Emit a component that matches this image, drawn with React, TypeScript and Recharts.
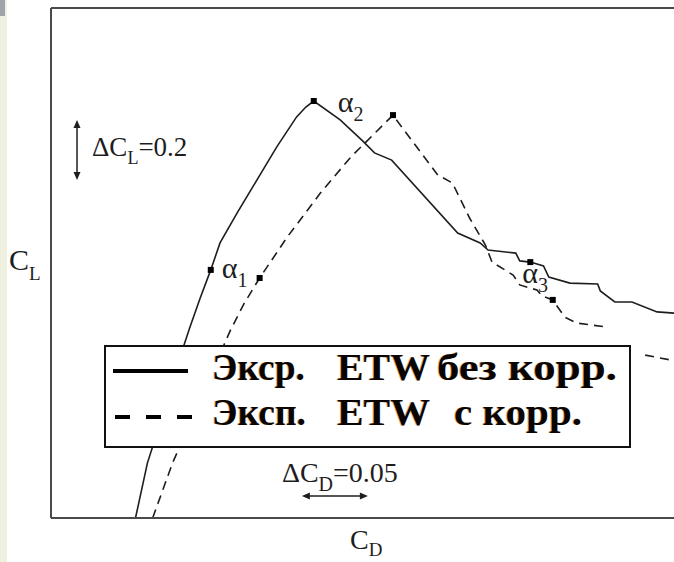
import React from 'react';
import { LineChart, Line, XAxis, YAxis, ReferenceLine, Legend, Label } from 'recharts';

// C_D / C_L (no tick values in the original, scale from the ΔC arrows)
const solidCd = [0.064, 0.073, 0.081, 0.089, 0.097, 0.105, 0.113, 0.121, 0.128, 0.141, 0.156, 0.171, 0.186, 0.193, 0.199, 0.219, 0.236, 0.245, 0.258, 0.308, 0.325, 0.331, 0.352, 0.355, 0.363, 0.373, 0.377, 0.393, 0.414, 0.416, 0.427, 0.440, 0.459, 0.472, 0.490];
const solidCl = [-0.200, -0.017, 0.093, 0.200, 0.327, 0.433, 0.533, 0.627, 0.717, 0.817, 0.927, 1.037, 1.137, 1.170, 1.190, 1.127, 1.057, 1.017, 0.993, 0.750, 0.717, 0.693, 0.683, 0.657, 0.653, 0.640, 0.603, 0.583, 0.580, 0.557, 0.520, 0.520, 0.487, 0.483, 0.480];
const solidMarks = [7, 14, 24];

const dashCd = [0.077, 0.092, 0.103, 0.114, 0.126, 0.136, 0.146, 0.158, 0.179, 0.204, 0.227, 0.243, 0.259, 0.264, 0.293, 0.304, 0.317, 0.329, 0.334, 0.350, 0.355, 0.368, 0.372, 0.380, 0.389, 0.398, 0.420, 0.432, 0.450, 0.469, 0.490];
const dashCl = [-0.200, -0.017, 0.093, 0.200, 0.327, 0.427, 0.513, 0.600, 0.737, 0.883, 1.003, 1.073, 1.143, 1.113, 0.943, 0.917, 0.800, 0.710, 0.653, 0.610, 0.577, 0.560, 0.540, 0.527, 0.470, 0.450, 0.437, null, 0.343, 0.327, 0.320];
const dashMarks = [7, 12, 23];

const alphaIdx = ['1', '2', '3'];
const seriesNames = ['Экср.  ETW  без корр.', 'Эксп.  ETW  с корр.'];

const dCl = 0.2;
const dCd = 0.05;

const solidData = solidCd.map((cd, i) => ({ cd, cl: solidCl[i] }));
const dashData = dashCd.map((cd, i) => ({ cd, cl: dashCl[i] }));

const INK = '#1e1e1e';
const FRAME = '#4a4a4a';
const SERIF = '"Liberation Serif", "Times New Roman", serif';

// where the alpha label sits relative to its marker
const alphaOffset = [
  [11, 8],
  [24, 11],
  [-8, 21],
];

const square = (cx: number, cy: number, key: string) => (
  <rect key={key} x={cx - 3} y={cy - 3} width={6} height={6} fill="#000" />
);

const solidDot = (p: any) => {
  const k = solidMarks.indexOf(p.index);
  if (k < 0) return <g key={`s-${p.index}`} />;
  const [dx, dy] = alphaOffset[k];
  return (
    <g key={`s-${p.index}`}>
      {square(p.cx, p.cy, 'sq')}
      <text x={p.cx + dx} y={p.cy + dy} fontFamily={SERIF} fontSize={30} fill={INK}>
        α<tspan dy={9} fontSize={20}>{alphaIdx[k]}</tspan>
      </text>
    </g>
  );
};

const dashDot = (p: any) => {
  if (!dashMarks.includes(p.index)) return <g key={`d-${p.index}`} />;
  return square(p.cx, p.cy, `d-${p.index}`);
};

const VArrow = (p: any) => {
  const { x1, y1, x2, y2 } = p;
  const top = Math.min(y1, y2);
  const bot = Math.max(y1, y2);
  const mid = (top + bot) / 2;
  return (
    <g>
      <line x1={x1} x2={x2} y1={top + 4} y2={bot - 4} stroke={INK} strokeWidth={1.5} />
      <path d={`M${x1 - 3.5},${top + 8} L${x1},${top} L${x1 + 3.5},${top + 8} Z`} fill={INK} />
      <path d={`M${x1 - 3.5},${bot - 8} L${x1},${bot} L${x1 + 3.5},${bot - 8} Z`} fill={INK} />
      <text x={x1 + 15} y={mid + 6} fontFamily={SERIF} fontSize={27} fill={INK}>
        ΔC<tspan dy={8} fontSize={18}>L</tspan>
        <tspan dy={-8}>={dCl}</tspan>
      </text>
    </g>
  );
};

const HArrow = (p: any) => {
  const { x1, y1, x2 } = p;
  const l = Math.min(x1, x2);
  const r = Math.max(x1, x2);
  return (
    <g>
      <line x1={l + 4} x2={r - 4} y1={y1} y2={y1} stroke={INK} strokeWidth={1.5} />
      <path d={`M${l + 8},${y1 - 3.5} L${l},${y1} L${l + 8},${y1 + 3.5} Z`} fill={INK} />
      <path d={`M${r - 8},${y1 - 3.5} L${r},${y1} L${r - 8},${y1 + 3.5} Z`} fill={INK} />
      <text x={l - 20} y={y1 - 14} fontFamily={SERIF} fontSize={28} fill={INK}>
        ΔC<tspan dy={9} fontSize={20}>D</tspan>
        <tspan dy={-9}>={dCd}</tspan>
      </text>
    </g>
  );
};

const ClLabel = (p: any) => {
  const vb = p.viewBox || { x: 50, width: 1 };
  return (
    <text x={vb.x + vb.width - 42} y={270} fontFamily={SERIF} fontSize={30} fill={INK}>
      C<tspan dy={10} fontSize={19}>L</tspan>
    </text>
  );
};

const CdLabel = (p: any) => {
  const vb = p.viewBox || { x: 51, y: 518 };
  return (
    <text x={vb.x + 299} y={vb.y + 31} fontFamily={SERIF} fontSize={28} fill={INK}>
      C<tspan dy={7} fontSize={19}>D</tspan>
    </text>
  );
};

const wordX = [
  [108, 233, 333],
  [108, 233, 350],
];
const wordW = [
  [93, 93, 180],
  [94, 93, 128],
];

const LegendBox = (props: any) => {
  const items = props.payload || [];
  const rows = items.map((it: any) => String(it.value).split(/\s{2,}/));
  const rowY = [35, 80];
  const lineY = [26, 72];
  return (
    <svg width={528} height={104} style={{ display: 'block' }}>
      <rect x={1} y={1} width={525} height={101} fill="#fff" stroke="#111" strokeWidth={2} />
      {items.map((it: any, r: number) => (
        <line
          key={`ln-${r}`}
          x1={r === 0 ? 9 : 11}
          x2={r === 0 ? 84 : 88}
          y1={lineY[r]}
          y2={lineY[r]}
          stroke="#000"
          strokeWidth={4}
          strokeDasharray={r === 1 ? '15 16' : undefined}
        />
      ))}
      {rows.map((words: string[], r: number) =>
        words.map((w, i) => (
          <g key={`w-${r}-${i}`}>
            <text x={wordX[r][i] - 1} y={rowY[r]} fontFamily={SERIF} fontWeight="bold" fontSize={37} fill="#c0762a" opacity={0.55}
              textLength={wordW[r][i]} lengthAdjust="spacingAndGlyphs">{w}</text>
            <text x={wordX[r][i]} y={rowY[r]} fontFamily={SERIF} fontWeight="bold" fontSize={37} fill="#0a0500"
              textLength={wordW[r][i]} lengthAdjust="spacingAndGlyphs">{w}</text>
          </g>
        ))
      )}
    </svg>
  );
};

export default function App() {
  return (
    <div style={{ position: 'fixed', left: 0, top: 0, width: 674, height: 562, overflow: 'hidden', background: '#fff' }}>
      <div style={{ position: 'absolute', left: 0, top: 0, width: 7, height: 562, background: '#eef1df' }} />
      <div style={{ position: 'absolute', left: 0, top: 0, width: 5, height: 16, background: '#9ea3ab' }} />
      <div style={{ position: 'absolute', left: 0, top: 0 }}>
        <LineChart width={698} height={562} margin={{ top: 7, right: 0, bottom: 43, left: 50 }}>
          <XAxis type="number" dataKey="cd" domain={[0, 0.49]} allowDataOverflow height={1} tick={false} tickLine={false}
            axisLine={{ stroke: FRAME, strokeWidth: 2 }}>
            <Label content={CdLabel} />
          </XAxis>
          <XAxis xAxisId="top" orientation="top" type="number" dataKey="cd" domain={[0, 0.49]} height={1} tick={false}
            tickLine={false} axisLine={{ stroke: FRAME, strokeWidth: 2 }} />
          <YAxis type="number" domain={[-0.2, 1.5]} allowDataOverflow width={1} tick={false} tickLine={false}
            axisLine={{ stroke: FRAME, strokeWidth: 2 }}>
            <Label content={ClLabel} />
          </YAxis>
          <ReferenceLine segment={[{ x: 0.0197, y: 1.127 - dCl }, { x: 0.0197, y: 1.127 }]} shape={VArrow} ifOverflow="visible" />
          <ReferenceLine segment={[{ x: 0.19, y: -0.127 }, { x: 0.19 + dCd, y: -0.127 }]} shape={HArrow} ifOverflow="visible" />
          <Line data={dashData} dataKey="cl" name={seriesNames[1]} type="linear" stroke={INK} strokeWidth={1.6}
            strokeDasharray="9 6" dot={dashDot} activeDot={false} isAnimationActive={false} />
          <Line data={solidData} dataKey="cl" name={seriesNames[0]} type="linear" stroke={INK} strokeWidth={1.6}
            dot={solidDot} activeDot={false} isAnimationActive={false} />
          <Legend
            layout="horizontal"
            verticalAlign="middle"
            align="center"
            content={LegendBox}
            itemSorter={(it: any) => (it.value === seriesNames[0] ? 0 : 1)}
            wrapperStyle={{ position: 'absolute', left: 104, top: 345, width: 528, height: 104, margin: 0 }}
          />
        </LineChart>
      </div>
    </div>
  );
}
